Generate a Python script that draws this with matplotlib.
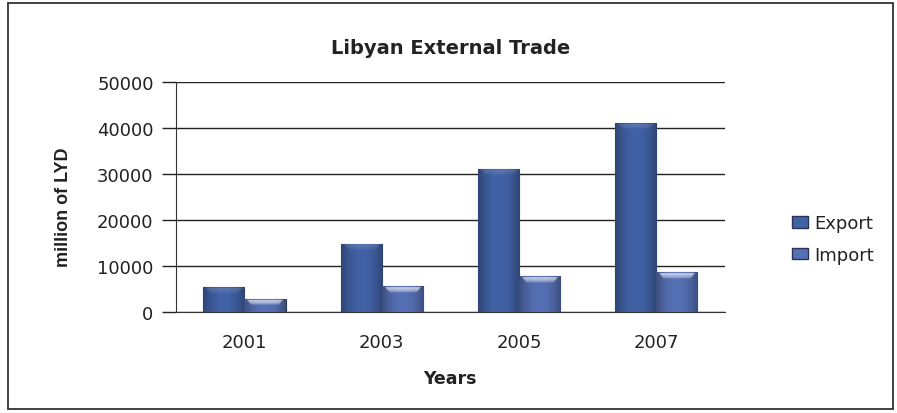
import matplotlib
matplotlib.use("Agg")
import matplotlib.pyplot as plt
import numpy as np
from matplotlib.patches import Rectangle, Patch

years = ["2001", "2003", "2005", "2007"]
export = [5400, 14800, 31100, 41100]
imports = [2800, 5600, 7800, 8600]

plt.rcParams['font.family'] = ['DejaVu Sans']
TXT = '#222222'

fig = plt.figure(figsize=(8.97, 4.14), dpi=100)
fig.patches.append(Rectangle((8/897, 4/414), 885/897, 406/414, transform=fig.transFigure,
                             fill=False, edgecolor='#333333', linewidth=1.3))

ax = fig.add_axes([0.196, 0.244, 0.612, 0.556])
x = np.arange(len(years))
w = 0.30
exp_color = '#4262a6'
imp_color = '#5670b5'

def grad_bar(ax, xs, hs, color, offset, hl):
    bars = ax.bar(xs + offset, hs, width=w, color=color, edgecolor='#2a3550', linewidth=0.8, zorder=3)
    base = np.array(matplotlib.colors.to_rgb(color))
    for b in bars:
        x0, y0 = b.get_x(), b.get_y()
        bw, bh = b.get_width(), b.get_height()
        nx, ny = 64, 200
        gx = np.linspace(-1, 1, nx)
        shade = 1 - 0.3 * gx**2
        img = base[None, None, :] * shade[None, :, None] * np.ones((ny, 1, 1))
        band = min(1400.0 / bh, 0.45)
        gy = np.linspace(1, 0, ny)  # row 0 at top
        for i in range(ny):
            t = (1 - gy[i]) / band
            if 0.15 < t < 1.0:
                inset = 0.9 - 0.25 * t
                sel = np.abs(gx) < inset
                a = hl * (1 - t) ** 0.5
                img[i, sel] = img[i, sel] * (1 - a) + a
        img = np.clip(img, 0, 1)
        im = ax.imshow(img, extent=[x0, x0 + bw, y0, y0 + bh], aspect='auto', zorder=3.5,
                       interpolation='bilinear')
        im.set_clip_path(b)
    return bars

grad_bar(ax, x, export, exp_color, -w/2, 0.15)
grad_bar(ax, x, imports, imp_color, w/2, 0.75)

ax.set_xlim(-0.5, 3.5)
ax.set_ylim(0, 50000)
ax.set_yticks(range(0, 50001, 10000))
ax.yaxis.grid(True, color='#222222', linewidth=1.0, zorder=0)
ax.set_axisbelow(True)
ax.set_xticks(x)
ax.set_xticklabels(years)
ax.tick_params(axis='x', length=0, pad=15, labelsize=13, colors=TXT)
ax.tick_params(axis='y', length=10, width=1, direction='out', pad=6, labelsize=13, colors=TXT)
for s in ['top', 'right']:
    ax.spines[s].set_visible(False)
ax.spines['left'].set_color('#333333')
ax.spines['bottom'].set_color('#333333')

ax.set_title('Libyan External Trade', fontsize=14, fontweight='bold', color=TXT, pad=21)
ax.set_xlabel('Years', fontsize=12.5, fontweight='bold', color=TXT, labelpad=13)
ax.set_ylabel('million of LYD', fontsize=13, fontweight='bold', color=TXT,
              family=['Liberation Sans', 'DejaVu Sans'])
ax.yaxis.set_label_coords(-0.19, 0.46)

handles = [Patch(facecolor=exp_color, edgecolor='#2a3550'), Patch(facecolor=imp_color, edgecolor='#2a3550')]
fig.legend(handles, ['Export', 'Import'], loc='center left', bbox_to_anchor=(0.865, 0.42),
           frameon=False, fontsize=13, handlelength=0.85, handleheight=0.6, handletextpad=0.4,
           labelspacing=0.75, labelcolor=TXT)

fig.savefig('out.png', dpi=100)
